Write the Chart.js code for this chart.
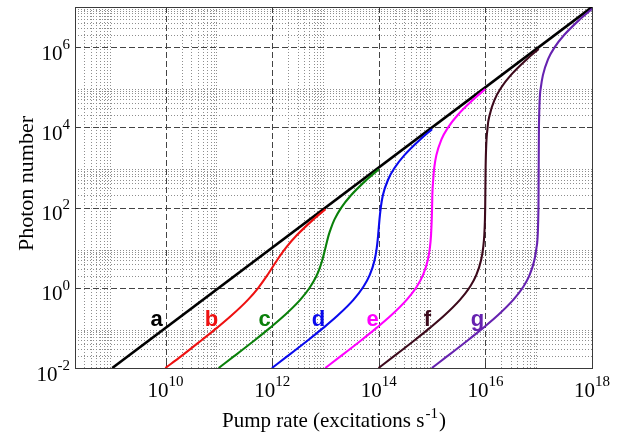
<!DOCTYPE html>
<html>
<head>
<meta charset="utf-8">
<script src="https://cdn.jsdelivr.net/npm/chart.js@4.4.1/dist/chart.umd.min.js"></script>
<style>
  html, body { margin: 0; padding: 0; background: #ffffff; }
  canvas { display: block; }
</style>
</head>
<body>
<canvas id="chart" width="627" height="434"></canvas>
<script>
// Photon number versus pump rate for several spontaneous-emission coupling factors.
const curveNames = ['a', 'b', 'c', 'd', 'e', 'f', 'g'];

const pumpA   = [1e9, 1e18];
const photonA = [1e-2, 1e7];

const pumpB   = [9.9e9, 2.0e10, 4.8e10, 9.2e10, 1.7e11, 3.5e11, 5.5e11, 8.0e11, 1.25e12, 1.82e12, 2.86e12, 5.88e12, 1.0e13];
const photonB = [0.01, 0.02, 0.05, 0.1, 0.2, 0.5, 1, 2, 5, 10, 20, 50, 91];

const pumpC   = [9.9e10, 1.96e11, 4.76e11, 9.1e11, 1.67e12, 3.35e12, 5.05e12, 6.8e12, 7.73e12, 8.75e12, 1.0e13, 1.14e13, 1.26e13, 1.47e13, 1.98e13, 2.99e13, 5.99e13, 1.0e14];
const photonC = [0.01, 0.02, 0.05, 0.1, 0.2, 0.5, 1, 2, 3, 5, 10, 20, 30, 50, 100, 200, 500, 901];

const pumpD   = [9.9e11, 1.96e12, 4.76e12, 9.09e12, 1.67e13, 3.34e13, 5.0e13, 6.68e13, 8.38e13, 9.18e13, 9.71e13, 1.03e14, 1.09e14, 1.19e14, 1.5e14, 2.0e14, 3.0e14, 6.0e14, 1.0e15];
const photonD = [0.01, 0.02, 0.05, 0.1, 0.2, 0.5, 1, 2, 5, 10, 20, 50, 100, 200, 500, 1000, 2000, 5000, 9001];

const pumpE   = [9.9e12, 1.96e13, 4.76e13, 9.09e13, 1.67e14, 3.33e14, 5.0e14, 6.67e14, 8.34e14, 9.1e14, 9.54e14, 9.85e14, 1.0e15, 1.01e15, 1.05e15, 1.1e15, 1.2e15, 1.5e15, 2.0e15, 3.0e15, 6.0e15, 1.0e16];
const photonE = [0.01, 0.02, 0.05, 0.1, 0.2, 0.5, 1, 2, 5, 10, 20, 50, 100, 200, 500, 1000, 2000, 5000, 1e4, 2e4, 5e4, 9e4];

const pumpF   = [9.9e13, 1.96e14, 4.76e14, 9.09e14, 1.67e15, 3.33e15, 5.0e15, 6.67e15, 8.33e15, 9.09e15, 9.53e15, 9.81e15, 9.91e15, 1.01e16, 1.1e16, 1.2e16, 1.5e16, 2.0e16, 3.0e16, 6.0e16, 1.0e17];
const photonF = [0.01, 0.02, 0.05, 0.1, 0.2, 0.5, 1, 2, 5, 10, 20, 50, 100, 1000, 1e4, 2e4, 5e4, 1e5, 2e5, 5e5, 9e5];

const pumpG   = [9.9e14, 1.96e15, 4.76e15, 9.09e15, 1.67e16, 3.33e16, 5.0e16, 6.67e16, 8.33e16, 9.09e16, 9.9e16, 1.0e17, 1.01e17, 1.1e17, 1.2e17, 1.5e17, 2.0e17, 3.0e17, 6.0e17, 1.0e18];
const photonG = [0.01, 0.02, 0.05, 0.1, 0.2, 0.5, 1, 2, 5, 10, 100, 1000, 1e4, 1e5, 2e5, 5e5, 1e6, 2e6, 5e6, 9e6];

// Curve letters, anchored in data units
const labelPump   = [6.8e9, 7.3e10, 7.2e11, 7.4e12, 7.7e13, 8.2e14, 7.1e15];
const labelPhoton = [0.114, 0.114, 0.114, 0.114, 0.114, 0.114, 0.114];

// Labelled decades on each axis
const xTickValues = [1e10, 1e12, 1e14, 1e16, 1e18];
const yTickValues = [1e-2, 1e0, 1e2, 1e4, 1e6];

const xMin = 2e8, xMax = 1e18;
const yMin = 1e-2, yMax = 1e7;

const colors = ['#000000', '#ee1111', '#0a800a', '#0a0aee', '#ff00ff', '#3d0a1c', '#6622b0'];
const pumps = [pumpA, pumpB, pumpC, pumpD, pumpE, pumpF, pumpG];
const photons = [photonA, photonB, photonC, photonD, photonE, photonF, photonG];

const toPoints = (xs, ys) => xs.map((v, i) => ({ x: v, y: ys[i] }));

const datasets = curveNames.map((name, i) => ({
  label: name,
  data: toPoints(pumps[i], photons[i]),
  borderColor: colors[i],
  backgroundColor: colors[i],
  borderWidth: i === 0 ? 2.6 : 2.1,
  pointRadius: 0,
  fill: false,
  cubicInterpolationMode: i === 0 ? 'default' : 'monotone',
  order: i === 0 ? 10 : 1
}));

const SERIF = '"Liberation Serif", "Times New Roman", Times, serif';
const SANS = '"Liberation Sans", Arial, Helvetica, sans-serif';

function powerLabel(ctx, exp, x, yBase, align, baseSize, supSize, supRise) {
  const base = '10';
  const sup = String(exp);
  ctx.font = baseSize + 'px ' + SERIF;
  const wb = ctx.measureText(base).width;
  ctx.font = supSize + 'px ' + SERIF;
  const ws = ctx.measureText(sup).width;
  const total = wb + ws;
  const left = align === 'center' ? x - total / 2 : x - total;
  ctx.textAlign = 'left';
  ctx.textBaseline = 'middle';
  ctx.font = baseSize + 'px ' + SERIF;
  ctx.fillText(base, left, yBase);
  ctx.font = supSize + 'px ' + SERIF;
  ctx.fillText(sup, left + wb, yBase - supRise);
}

// Minor lines at 2..9 times each labelled decade (and the decade below the first label)
function minorValues(ticks, lo, hi) {
  const decades = ticks.map(t => Math.round(Math.log10(t)));
  decades.unshift(decades[0] - 2);
  const out = [];
  decades.forEach(e => {
    for (let m = 2; m <= 9; m++) {
      const v = m * Math.pow(10, e);
      if (v > lo && v < hi) out.push(v);
    }
  });
  return out;
}

const frameAndGrid = {
  id: 'frameAndGrid',
  beforeDatasetsDraw(chart) {
    const { ctx, chartArea: area, scales } = chart;
    const xs = scales.x, ys = scales.y;
    ctx.save();
    ctx.lineWidth = 1;

    // minor grid: dotted
    ctx.strokeStyle = '#8e8e8e';
    ctx.setLineDash([1, 2]);
    ctx.beginPath();
    minorValues(xTickValues, xMin, xMax).forEach(v => {
      const px = Math.round(xs.getPixelForValue(v)) + 0.5;
      ctx.moveTo(px, area.top);
      ctx.lineTo(px, area.bottom);
    });
    minorValues(yTickValues, yMin, yMax).forEach(v => {
      const py = Math.round(ys.getPixelForValue(v)) + 0.5;
      ctx.moveTo(area.left, py);
      ctx.lineTo(area.right, py);
    });
    ctx.stroke();

    // labelled decades: dashed
    ctx.strokeStyle = '#444444';
    ctx.setLineDash([6, 3]);
    ctx.beginPath();
    xTickValues.forEach(v => {
      if (v <= xMin || v >= xMax) return;
      const px = Math.round(xs.getPixelForValue(v)) + 0.5;
      ctx.moveTo(px, area.top);
      ctx.lineTo(px, area.bottom);
    });
    yTickValues.forEach(v => {
      if (v <= yMin || v >= yMax) return;
      const py = Math.round(ys.getPixelForValue(v)) + 0.5;
      ctx.moveTo(area.left, py);
      ctx.lineTo(area.right, py);
    });
    ctx.stroke();

    // axes box
    ctx.setLineDash([]);
    ctx.strokeStyle = '#3a3a3a';
    ctx.strokeRect(Math.round(area.left) + 0.5, Math.round(area.top) + 0.5,
                   Math.round(area.right - area.left), Math.round(area.bottom - area.top));

    // tick marks
    ctx.beginPath();
    xTickValues.forEach(v => {
      const px = Math.round(xs.getPixelForValue(v)) + 0.5;
      ctx.moveTo(px, area.bottom); ctx.lineTo(px, area.bottom - 5);
      ctx.moveTo(px, area.top); ctx.lineTo(px, area.top + 5);
    });
    yTickValues.forEach(v => {
      const py = Math.round(ys.getPixelForValue(v)) + 0.5;
      ctx.moveTo(area.left, py); ctx.lineTo(area.left + 5, py);
      ctx.moveTo(area.right, py); ctx.lineTo(area.right - 5, py);
    });
    ctx.stroke();
    ctx.restore();
  },
  afterDatasetsDraw(chart) {
    const { ctx, chartArea: area, scales } = chart;
    const xs = scales.x, ys = scales.y;
    ctx.save();
    ctx.fillStyle = '#000000';

    // tick labels
    xTickValues.forEach(v => {
      const px = xs.getPixelForValue(v);
      powerLabel(ctx, Math.round(Math.log10(v)), px, area.bottom + 23, 'center', 21, 15, 9);
    });
    yTickValues.forEach(v => {
      const py = ys.getPixelForValue(v);
      powerLabel(ctx, Math.round(Math.log10(v)), area.left - 5, py + 7, 'right', 21, 15, 9);
    });

    // x title with superscript
    const t1 = 'Pump rate (excitations s';
    const tSup = '-1';
    const t2 = ')';
    ctx.textBaseline = 'alphabetic';
    ctx.textAlign = 'left';
    ctx.font = '21px ' + SERIF;
    const w1 = ctx.measureText(t1).width;
    const w2 = ctx.measureText(t2).width;
    ctx.font = '15px ' + SERIF;
    const ws = ctx.measureText(tSup).width;
    const cx = (area.left + area.right) / 2 - 0.5;
    const left = cx - (w1 + ws + w2) / 2;
    ctx.font = '21px ' + SERIF;
    ctx.fillText(t1, left, 427);
    ctx.font = '15px ' + SERIF;
    ctx.fillText(tSup, left + w1 + 1, 418);
    ctx.font = '21px ' + SERIF;
    ctx.fillText(t2, left + w1 + ws + 2, 427);

    // y title
    ctx.save();
    ctx.translate(33, (area.top + area.bottom) / 2 - 4);
    ctx.rotate(-Math.PI / 2);
    ctx.textAlign = 'center';
    ctx.textBaseline = 'alphabetic';
    ctx.font = '22px ' + SERIF;
    ctx.fillText('Photon number', 0, 0);
    ctx.restore();

    // curve letters
    ctx.font = 'bold 22px ' + SANS;
    ctx.textAlign = 'center';
    ctx.textBaseline = 'alphabetic';
    curveNames.forEach((name, i) => {
      ctx.fillStyle = colors[i];
      ctx.fillText(name, xs.getPixelForValue(labelPump[i]), ys.getPixelForValue(labelPhoton[i]));
    });
    ctx.restore();
  }
};

new Chart(document.getElementById('chart'), {
  type: 'line',
  data: { datasets },
  options: {
    responsive: false,
    animation: false,
    devicePixelRatio: 1,
    layout: { padding: { left: 75, right: 35, top: 7, bottom: 66 } },
    plugins: { legend: { display: false }, tooltip: { enabled: false } },
    scales: {
      x: { type: 'logarithmic', min: xMin, max: xMax, display: false },
      y: { type: 'logarithmic', min: yMin, max: yMax, display: false }
    }
  },
  plugins: [frameAndGrid]
});
</script>
</body>
</html>
